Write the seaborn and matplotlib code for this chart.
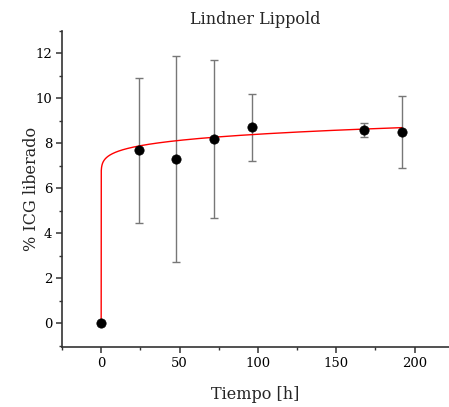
import numpy as np
import pandas as pd
import matplotlib
matplotlib.use("Agg")
import matplotlib.pyplot as plt
import seaborn as sns
from matplotlib.ticker import MultipleLocator

# Data
tiempo = [0, 24, 48, 72, 96, 168, 192]
liberado = [0.0, 7.72, 7.30, 8.20, 8.72, 8.60, 8.52]
err_sup = [0.0, 10.93, 11.87, 11.69, 10.21, 8.93, 10.10]
err_inf = [0.0, 4.46, 2.72, 4.68, 7.24, 8.28, 6.90]

# Lindner-Lippold fit parameters (y = b + k * t^n)
b_fit = 6.3
k_fit = 0.84
n_fit = 0.2

title = "Lindner Lippold"
xlabel = "Tiempo [h]"
ylabel = "% ICG liberado"

sns.set_style("ticks")
plt.rcParams['font.family'] = ['DejaVu Serif']

fig = plt.figure(figsize=(4.49, 4.07), dpi=100)
ax = fig.add_axes([62/449, 60/407, 1 - 62/449, (347-31)/407])

df = pd.DataFrame({"t": tiempo, "y": liberado})
yerr = [np.array(liberado) - np.array(err_inf), np.array(err_sup) - np.array(liberado)]
ax.errorbar(tiempo, liberado, yerr=yerr, fmt='none', ecolor='#777777',
            elinewidth=1.0, capsize=3, capthick=1.0, zorder=1)

t_curve = np.concatenate([[0.0], np.geomspace(1e-8, 192, 800)])
y_curve = b_fit + k_fit * t_curve ** n_fit
y_curve[0] = 0.0
sns.lineplot(x=t_curve, y=y_curve, ax=ax, color='red', linewidth=1.0,
             sort=False, estimator=None, zorder=2)
sns.scatterplot(data=df, x="t", y="y", ax=ax, color='black', s=45,
                edgecolor='black', linewidth=0.5, zorder=3)

ax.set_xlim(-25, 222)
ax.set_ylim(-1.05, 13)
ax.xaxis.set_major_locator(MultipleLocator(50))
ax.xaxis.set_minor_locator(MultipleLocator(25))
ax.yaxis.set_major_locator(MultipleLocator(2))
ax.yaxis.set_minor_locator(MultipleLocator(1))

for s in ['top', 'right']:
    ax.spines[s].set_visible(False)
for s in ['left', 'bottom']:
    ax.spines[s].set_color('#333333')
    ax.spines[s].set_linewidth(1.2)
ax.tick_params(which='major', length=4, width=1.1, pad=3, color='#333333', labelsize=9.5, labelcolor='black')
ax.tick_params(which='minor', length=2.5, width=1.0, color='#333333')

ax.set_title(title, fontsize=11.5, pad=5)
ax.set_xlabel(xlabel, fontsize=11.5, labelpad=12)
ax.set_ylabel(ylabel, fontsize=11.5, labelpad=-3)

fig.savefig("out.png", dpi=100)
